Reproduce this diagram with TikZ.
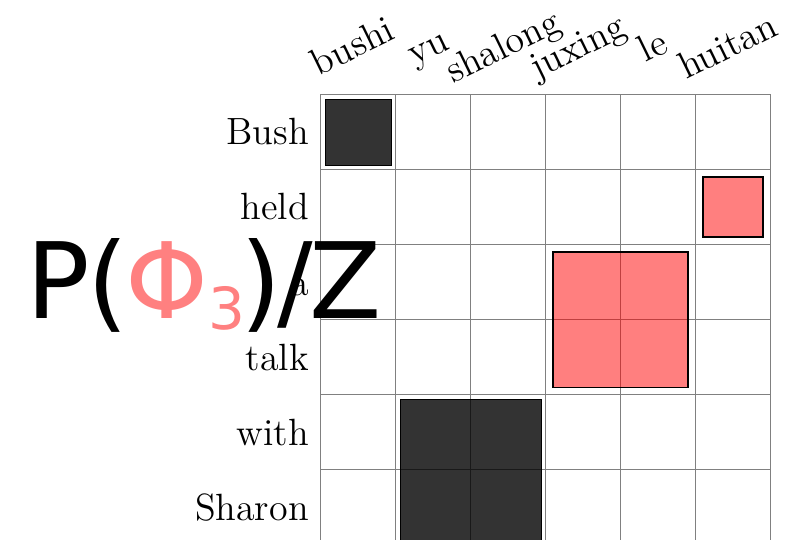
\documentclass[tikz,border=0pt]{standalone}
\usepackage{fontspec}
\usepackage{tikz}
\usetikzlibrary{positioning}
\newfontfamily\probfont{DejaVu Sans}
\definecolor{SoftRed}{HTML}{FF8080}

\begin{document}
\begin{tikzpicture}[
    gridline/.style={gray, line width=0.4pt},
    hardbox/.style={fill=black, fill opacity=0.8, draw=black, line width=0.3pt},
    softbox/.style={fill=red, fill opacity=0.5, draw=black, draw opacity=1, line width=0.4pt},
    rowlab/.style={anchor=base east, inner sep=0pt, font=\Large},
    collab/.style={anchor=base, inner sep=0pt, rotate=26, font=\Large}]
        \useasboundingbox (-4.273,-5.927) rectangle (6.313,1.26);
        % alignment grid
        \draw[gridline] (0,0) grid (6,-6);
        % English words (rows)
        \foreach \w [count=\i] in {Bush,held,a,talk,with,Sharon}
          \node[rowlab] (row\i) at (-0.15,{0.5-\i-0.173}) {\w};
        % Chinese words (columns)
        \foreach \w [count=\j] in {bushi,yu,shalong,juxing,le,huitan}
          \node[collab] (col\j) at ({\j-0.5},0.5) {\w};
        % phrase pairs
        \filldraw[hardbox] (0.06,-0.06) rectangle (0.94,-0.94);
        \filldraw[hardbox] (1.06,-4.06) rectangle (2.94,-5.94);
        \filldraw[softbox] (5.1,-1.1) rectangle (5.9,-1.9);
        \filldraw[softbox] (3.1,-2.1) rectangle (4.9,-3.9);
        % probability label
        \node[anchor=base west, inner sep=0pt] (prob) at (-3.93,-2.98)
          {\fontsize{40}{44}\probfont P\kern-1pt(\kern-1pt\textcolor{SoftRed}{Φ\raisebox{-4.5pt}{\fontsize{22}{24}\selectfont 3}}\kern-2pt)\kern-1.5pt/\kern-1.5pt Z};
      \end{tikzpicture}
\end{document}
